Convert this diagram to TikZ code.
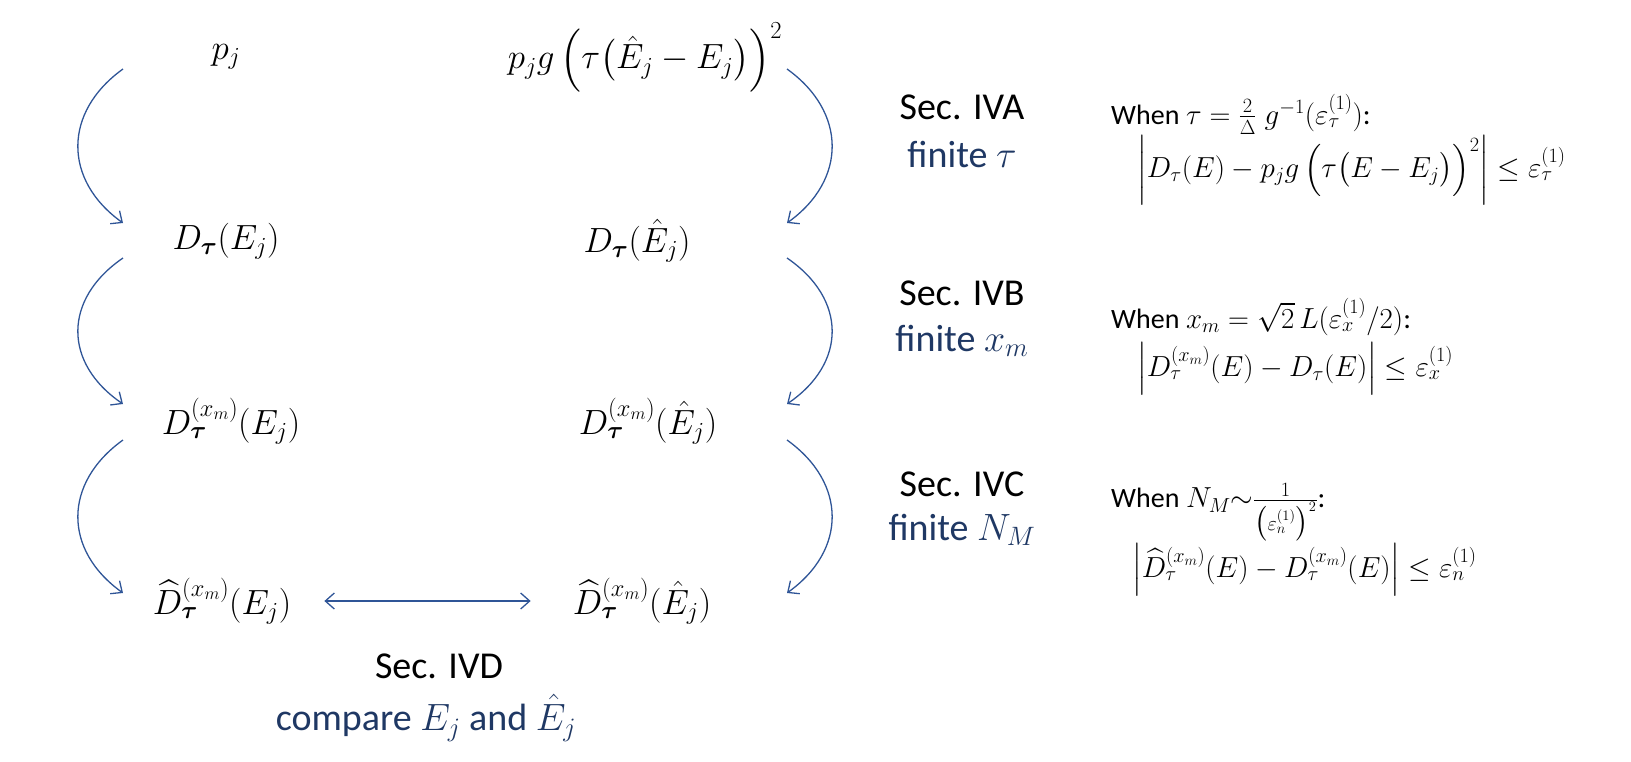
\RequirePackage{fix-cm}
\documentclass[tikz,border=0pt]{standalone}
\usepackage{amsmath,amssymb,bm}
\usepackage{fontspec}
\setmainfont{Carlito}
\usetikzlibrary{arrows.meta}
\definecolor{navy}{HTML}{1F3864}
\definecolor{arrowblue}{HTML}{2F5597}
\newcommand{\whentxt}{{\fontsize{28}{32}\selectfont When}}
\begin{document}
\begin{tikzpicture}[x=1pt,y=-1pt,
  big/.style={font=\fontsize{35}{42}\selectfont, inner sep=0pt, anchor=center},
  sec/.style={font=\fontsize{38}{45}\selectfont, inner sep=0pt, anchor=center},
  when/.style={font=\fontsize{29}{34}\selectfont, anchor=west, inner sep=0pt},
  flow/.style={draw=arrowblue, line width=1.3pt, -{Straight Barb[length=9pt,width=16pt]}},
]
\useasboundingbox (0,0) rectangle (1631,761);

% left column nodes
\node[big] (n1) at (226,57) {$p_j$};
\node[big] (n2) at (645,57) {$p_j g\,\Bigl(\tau\bigl(\hat{E}_j - E_j\bigr)\Bigr)^2$};
\node[big] (a1) at (226,241) {$D_{\bm\tau}(E_j)$};
\node[big] (b1) at (637,241) {$D_{\bm\tau}(\hat{E}_j)$};
\node[big] (a2) at (231,421) {$D_{\bm\tau}^{(x_m)}(E_j)$};
\node[big] (b2) at (648,421) {$D_{\bm\tau}^{(x_m)}(\hat{E}_j)$};
\node[big] (a3) at (222,601) {$\widehat{D}_{\bm\tau}^{(x_m)}(E_j)$};
\node[big] (b3) at (642,601) {$\widehat{D}_{\bm\tau}^{(x_m)}(\hat{E}_j)$};

% arrow end points
\coordinate (l1s) at (123,69);  \coordinate (l1e) at (123,223);
\coordinate (l2s) at (123,258); \coordinate (l2e) at (123,404);
\coordinate (l3s) at (123,440); \coordinate (l3e) at (123,593);
\coordinate (r1s) at (787,69);  \coordinate (r1e) at (787,223);
\coordinate (r2s) at (787,258); \coordinate (r2e) at (787,404);
\coordinate (r3s) at (787,440); \coordinate (r3e) at (787,593);

\draw[flow] (l1s) .. controls (63,112) and (63,180) .. (l1e);
\draw[flow] (l2s) .. controls (63,299) and (63,363) .. (l2e);
\draw[flow] (l3s) .. controls (63,483) and (63,550) .. (l3e);
\draw[flow] (r1s) .. controls (847,112) and (847,180) .. (r1e);
\draw[flow] (r2s) .. controls (847,299) and (847,363) .. (r2e);
\draw[flow] (r3s) .. controls (847,483) and (847,550) .. (r3e);

\draw[flow, {Straight Barb[length=9pt,width=16pt]}-{Straight Barb[length=9pt,width=16pt]}]
  ([xshift=33pt]a3.east) -- ([xshift=-42pt]b3.west);

% bottom label
\node[sec] (secd) at (439,666) {Sec. IVD};
\node[sec, text=navy] (cmp) at (426,718) {compare $E_j$ and $\hat{E}_j$};

% right column labels
\node[sec] (seca) at (962,107) {Sec. IVA};
\node[sec, text=navy] (fina) at (962,154) {finite $\tau$};
\node[sec] (secb) at (962,293) {Sec. IVB};
\node[sec, text=navy] (finb) at (962,341) {finite $x_m$};
\node[sec] (secc) at (962,484) {Sec. IVC};
\node[sec, text=navy] (finc) at (962,530) {finite $N_M$};

% right column formulas
\node[when] (wa) at (1111,114) {\whentxt\ $\tau = \frac{2}{\Delta}\;g^{-1}(\varepsilon_\tau^{(1)})$:};
\node[when] (fa) at (1137,170) {$\left|D_\tau(E) - p_j g\,\Bigl(\tau\bigl(E - E_j\bigr)\Bigr)^2\right| \le \varepsilon_\tau^{(1)}$};
\node[when] (wb) at (1111,317) {\whentxt\ $x_m = \sqrt{2}\,L(\varepsilon_x^{(1)}/2)$:};
\node[when] (fb) at (1137,369) {$\left|D_\tau^{(x_m)}(E) - D_\tau(E)\right| \le \varepsilon_x^{(1)}$};
\node[when] (wc) at (1111,512) {\whentxt\ $N_M{\sim}\frac{1}{\bigl(\varepsilon_n^{(1)}\bigr)^2}$:};
\node[when] (fc) at (1132,570) {$\left|\widehat{D}_\tau^{(x_m)}(E) - D_\tau^{(x_m)}(E)\right| \le \varepsilon_n^{(1)}$};
\end{tikzpicture}
\end{document}
